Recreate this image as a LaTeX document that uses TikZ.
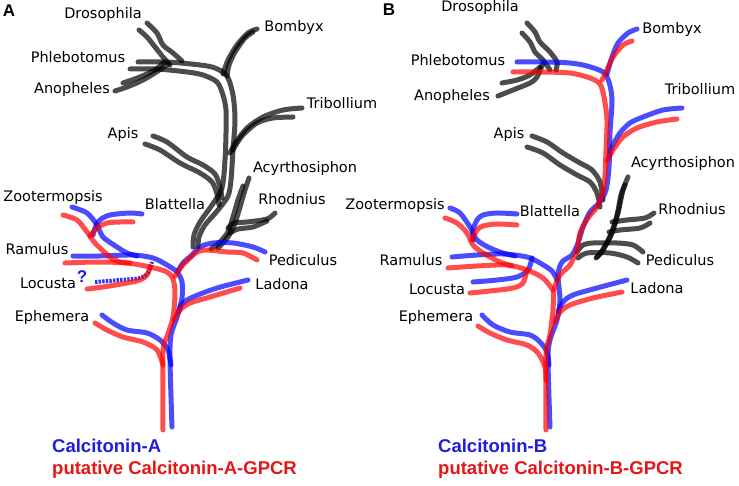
\documentclass[tikz,border=0pt]{standalone}
\usepackage{fontspec}
\newfontfamily\taxfont{DejaVu Sans}
\newfontfamily\legfont{Liberation Sans}
\definecolor{calcblue}{RGB}{30,30,225}
\definecolor{gpcrred}{RGB}{228,22,22}
\tikzset{
  branch/.style={line width=5pt, draw opacity=0.7, line cap=round, line join=round},
  bl/.style={branch, draw=blue},
  rd/.style={branch, draw=red},
  gy/.style={branch, draw=black},
  taxon/.style={font=\taxfont\fontsize{14.5}{16}\selectfont, inner sep=0pt, anchor=mid},
  legend/.style={font=\legfont\bfseries\fontsize{18.5}{20}\selectfont, inner sep=0pt, anchor=mid west},
  panel/.style={font=\legfont\bfseries\fontsize{17}{18}\selectfont, inner sep=0pt}
}
\begin{document}
\begin{tikzpicture}[x=1pt, y=-1pt]
  \useasboundingbox (0,0) rectangle (739,486);
  \node[panel] (pA) at (9,11) {A};
  \node[panel] (pB) at (389,10) {B};
  \draw
    (103,16) node[taxon] (drosoA){Drosophila}
    (294,29) node[taxon] (bombyA){Bombyx}
    (78,60) node[taxon] (phlebA){Phlebotomus}
    (72,91) node[taxon] (anophA){Anopheles}
    (342,106) node[taxon] (tribA){Tribollium}
    (123,136) node[taxon] (apisA){Apis}
    (305,170) node[taxon] (acyrA){Acyrthosiphon}
    (53,199) node[taxon] (zootA){Zootermopsis}
    (175,207) node[taxon] (blatA){Blattella}
    (292,202) node[taxon] (rhodA){Rhodnius}
    (37,252) node[taxon] (ramuA){Ramulus}
    (303,263) node[taxon] (pediA){Pediculus}
    (48,286) node[taxon] (locuA){Locusta}
    (282,287) node[taxon] (ladoA){Ladona}
    (52,319) node[taxon] (epheA){Ephemera};
  \draw
    (480,9) node[taxon] (drosoB){Drosophila}
    (672,31) node[taxon] (bombyB){Bombyx}
    (458,63) node[taxon] (phlebB){Phlebotomus}
    (452,98) node[taxon] (anophB){Anopheles}
    (700,92) node[taxon] (tribB){Tribollium}
    (509,136) node[taxon] (apisB){Apis}
    (683,165) node[taxon] (acyrB){Acyrthosiphon}
    (395,207) node[taxon] (zootB){Zootermopsis}
    (550,214) node[taxon] (blatB){Blattella}
    (692,212) node[taxon] (rhodB){Rhodnius}
    (411,263) node[taxon] (ramuB){Ramulus}
    (680,263) node[taxon] (pediB){Pediculus}
    (437,292) node[taxon] (locuB){Locusta}
    (657,291) node[taxon] (ladoB){Ladona}
    (436,319) node[taxon] (epheB){Ephemera};
  \node[font=\legfont\bfseries\fontsize{17}{18}\selectfont, text=calcblue, inner sep=0pt] (qmark) at (82,277) {?};
  \node[legend, text=calcblue] (legA1) at (52,450) {Calcitonin-A};
  \node[legend, text=gpcrred] (legA2) at (52,472) {putative Calcitonin-A-GPCR};
  \node[legend, text=calcblue] (legB1) at (438,450) {Calcitonin-B};
  \node[legend, text=gpcrred] (legB2) at (438,472) {putative Calcitonin-B-GPCR};
  \begin{scope}
    \draw[gy] plot[smooth] coordinates {(147,23) (157,33) (163,45) (173,53) (182,61)};
    \draw[gy] plot[smooth] coordinates {(139,30) (147,37) (155,47) (163,57) (170,65)};
    \draw[gy] plot[smooth] coordinates {(115,91) (127,87) (143,80) (158,71) (168,64)};
    \draw[gy] plot[smooth] coordinates {(123,83) (140,77) (155,70) (163,63)};
    \draw[gy] plot[smooth] coordinates {(138,62) (167,62) (200,65) (215,68) (227,76) (233,95) (235,120) (233,150) (231,180) (228,196) (218,210) (205,225) (199,237) (198,247)};
    \draw[gy] plot[smooth] coordinates {(130,69) (157,69) (187,72) (203,75) (217,82) (223,95) (226,110) (226,133) (225,160) (222,188) (212,205) (200,222) (194,235) (193,247)};
    \draw[gy] plot[smooth] coordinates {(257,29) (248,33) (237,45) (228,60) (223,74)};
    \draw[gy] plot[smooth] coordinates {(253,32) (245,38) (235,52) (229,65) (227,76)};
    \draw[gy] plot[smooth] coordinates {(302,108) (283,110) (263,117) (247,128) (236,142) (230,153)};
    \draw[gy] plot[smooth] coordinates {(293,117) (273,118) (257,123) (242,136) (233,150)};
    \draw[gy] plot[smooth] coordinates {(153,136) (167,142) (187,157) (203,165) (215,174) (220,187) (222,198)};
    \draw[gy] plot[smooth] coordinates {(145,144) (160,150) (180,163) (200,173) (212,182) (217,194) (219,205)};
    \draw[gy] plot[smooth] coordinates {(249,178) (245,190) (240,207) (235,223) (228,237) (218,248)};
    \draw[gy] plot[smooth] coordinates {(243,186) (238,200) (233,217) (228,232) (219,243) (211,249)};
    \draw[gy] plot[smooth] coordinates {(275,213) (267,219) (247,222) (234,223) (228,228)};
    \draw[gy] plot[smooth] coordinates {(267,221) (253,227) (238,229) (230,233)};
  \end{scope}
  \begin{scope}
    \draw[bl] plot[smooth] coordinates {(72,207) (87,213) (97,225) (103,237) (117,247) (127,253) (137,256)};
    \draw[bl] plot[smooth] coordinates {(142,214) (130,213) (110,215) (100,220) (95,228) (93,235)};
    \draw[bl] plot[smooth] coordinates {(73,256) (100,256) (133,255) (153,258) (167,265) (177,272) (182,282) (182,298) (177,317) (171,335) (170,360) (172,427)};
    \draw[bl] plot[smooth] coordinates {(265,252) (253,247) (233,243) (213,243) (200,247) (192,255) (183,263) (178,271)};
    \draw[bl] plot[smooth] coordinates {(248,280) (217,288) (193,297) (183,303) (178,312)};
    \draw[bl] plot[smooth] coordinates {(102,315) (113,323) (127,330) (147,333) (160,340) (168,350) (171,365)};
    \draw[bl, line width=4pt, draw opacity=0.8, dash pattern=on 2.4pt off 1.2pt, line cap=butt] plot[smooth] coordinates {(95,282) (120,280) (140,278) (148,273) (152,262)};
    \draw[rd] plot[smooth] coordinates {(63,215) (77,220) (87,232) (95,243) (110,257) (120,262) (130,263)};
    \draw[rd] plot[smooth] coordinates {(133,222) (120,222) (107,223) (97,228) (90,236)};
    \draw[rd] plot[smooth] coordinates {(65,263) (97,262) (127,263) (150,267) (167,272) (173,279) (175,293) (173,317) (167,337) (163,352) (163,430)};
    \draw[rd] plot[smooth] coordinates {(257,260) (243,253) (227,252) (207,250) (197,252) (190,258) (182,266) (175,276)};
    \draw[rd] plot[smooth] coordinates {(87,289) (103,287) (127,283) (140,280) (147,275) (150,267)};
    \draw[rd] plot[smooth] coordinates {(240,288) (210,297) (190,303) (180,310) (174,320)};
    \draw[rd] plot[smooth] coordinates {(95,323) (107,330) (123,337) (143,342) (157,350) (163,365)};
  \end{scope}
  \begin{scope}
    \draw[gy] plot[smooth] coordinates {(527,23) (535,32) (540,42) (550,52) (557,62) (556,70)};
    \draw[gy] plot[smooth] coordinates {(522,33) (530,42) (535,52) (543,60) (550,70)};
    \draw[gy] plot[smooth] coordinates {(498,96) (513,90) (530,83) (537,77) (543,63)};
    \draw[gy] plot[smooth] coordinates {(502,83) (517,80) (530,75) (540,67)};
    \draw[gy] plot[smooth] coordinates {(532,136) (547,142) (563,153) (580,163) (592,170) (600,182) (603,200)};
    \draw[gy] plot[smooth] coordinates {(527,147) (543,153) (560,165) (577,175) (590,182) (597,193) (600,207)};
    \draw[gy] plot[smooth] coordinates {(628,177) (623,190) (618,213) (612,233) (603,250) (597,257)};
    \draw[gy] plot[smooth] coordinates {(625,185) (621,195) (617,215) (611,234) (602,251) (596,258)};
    \draw[gy] plot[smooth] coordinates {(654,213) (645,218) (627,220) (612,222)};
    \draw[gy] plot[smooth] coordinates {(650,223) (640,228) (620,230) (609,232)};
    \draw[gy] plot[smooth] coordinates {(643,252) (633,245) (617,243) (593,243) (583,245) (577,252)};
    \draw[gy] plot[smooth] coordinates {(638,263) (627,257) (610,253) (587,253) (578,258)};
  \end{scope}
  \begin{scope}
    \draw[bl] plot[smooth] coordinates {(517,62) (543,62) (570,63) (587,66) (603,72) (609,82) (612,100) (610,133) (609,167) (606,190) (599,203) (590,212) (583,227) (578,243) (572,255) (562,262) (558,275) (560,300) (557,320) (550,340) (548,360) (550,427)};
    \draw[bl] plot[smooth] coordinates {(637,29) (628,33) (618,43) (612,57) (607,74)};
    \draw[bl] plot[smooth] coordinates {(682,108) (663,110) (643,117) (630,123) (620,133) (612,147) (609,157)};
    \draw[bl] plot[smooth] coordinates {(450,208) (460,213) (470,227) (477,240) (490,248) (503,253) (515,256)};
    \draw[bl] plot[smooth] coordinates {(517,214) (497,213) (483,215) (477,220) (473,230) (473,240)};
    \draw[bl] plot[smooth] coordinates {(452,257) (477,255) (503,254) (527,257) (540,263) (552,271) (557,280)};
    \draw[bl] plot[smooth] coordinates {(473,282) (497,280) (517,277) (528,270) (532,258)};
    \draw[bl] plot[smooth] coordinates {(627,280) (597,288) (573,295) (563,302) (558,312)};
    \draw[bl] plot[smooth] coordinates {(482,315) (493,325) (510,332) (530,335) (540,342) (547,352) (549,365)};
    \draw[rd] plot[smooth] coordinates {(513,72) (540,72) (570,73) (590,78) (600,84) (604,97) (607,120) (606,150) (605,175) (603,193) (597,207) (588,218) (580,233) (577,250) (570,265) (560,275) (554,290) (553,310) (550,335) (546,355) (546,430)};
    \draw[rd] plot[smooth] coordinates {(632,41) (623,45) (613,57) (607,70) (602,80)};
    \draw[rd] plot[smooth] coordinates {(677,119) (657,122) (637,128) (623,137) (613,150) (607,161)};
    \draw[rd] plot[smooth] coordinates {(445,218) (457,223) (467,233) (473,245) (483,253) (500,262) (512,266)};
    \draw[rd] plot[smooth] coordinates {(517,225) (497,224) (483,226) (477,230) (472,240)};
    \draw[rd] plot[smooth] coordinates {(448,268) (477,266) (507,265) (527,270) (543,278) (553,290)};
    \draw[rd] plot[smooth] coordinates {(470,293) (490,291) (513,288) (523,283) (527,270)};
    \draw[rd] plot[smooth] coordinates {(622,292) (593,298) (570,305) (560,312) (555,322)};
    \draw[rd] plot[smooth] coordinates {(478,326) (490,333) (507,340) (527,345) (538,353) (545,367) (546,380)};
  \end{scope}
\end{tikzpicture}
\end{document}
